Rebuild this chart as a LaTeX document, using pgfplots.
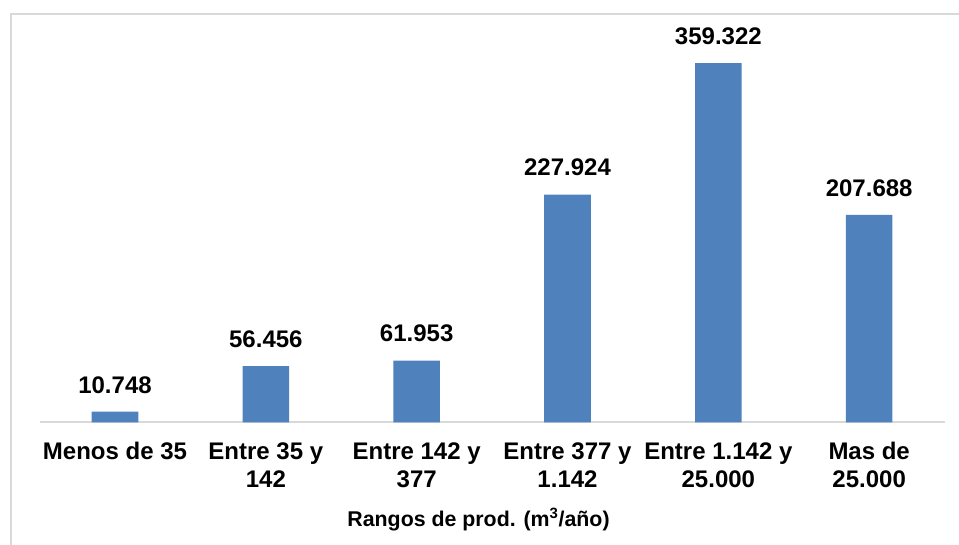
\documentclass[border=0pt]{standalone}
\usepackage{pgfplots}
\pgfplotsset{compat=1.18}
\usepackage{fontspec}
\setmainfont{Liberation Sans}
\definecolor{barblue}{HTML}{4F81BD}
\definecolor{framegray}{HTML}{D9D9D9}
\begin{document}
\begin{tikzpicture}[x=1pt,y=1pt]
\path[use as bounding box] (0,0) rectangle (719.25,408.75);
\draw[framegray, line width=1.5pt] (8.25,0) -- (8.25,398.25) -- (719.25,398.25);
\begin{axis}[
  at={(26.25,122.5)}, anchor=south west,
  scale only axis, width=678.75pt, height=300pt,
  xmin=-0.5, xmax=5.5, ymin=0, ymax=400000,
  axis y line=none, axis x line=bottom,
  x axis line style={-, framegray, line width=1.5pt},
  xtick={0,1,2,3,4,5},
  xticklabels={{Menos de 35\\\mbox{}}, {Entre 35 y\\142}, {Entre 142 y\\377}, {Entre 377 y\\1.142}, {Entre 1.142 y\\25.000}, {Mas de\\25.000}},
  major tick length=0pt,
  xticklabel style={font=\bfseries\fontsize{18}{21}\selectfont, align=center, anchor=base, yshift=-48.75pt},
  xlabel={Rangos de prod. (m\textsuperscript{3}/año)},
  xlabel style={font=\bfseries\fontsize{16}{19}\selectfont, at={(axis description cs:0.485,0)}, anchor=base, yshift=-78pt},
  ybar, bar width=34.9pt,
  nodes near coords, point meta=explicit symbolic,
  every node near coord/.append style={font=\bfseries\fontsize{18}{21}\selectfont, anchor=base, inner sep=0pt, yshift=14pt, text=black},
  clip=false,
]
\addplot[fill=barblue, draw=none] coordinates {
  (0,10748) [10.748]
  (1,56456) [56.456]
  (2,61953) [61.953]
  (3,227924) [227.924]
  (4,359322) [359.322]
  (5,207688) [207.688]
};
\end{axis}
\end{tikzpicture}
\end{document}
